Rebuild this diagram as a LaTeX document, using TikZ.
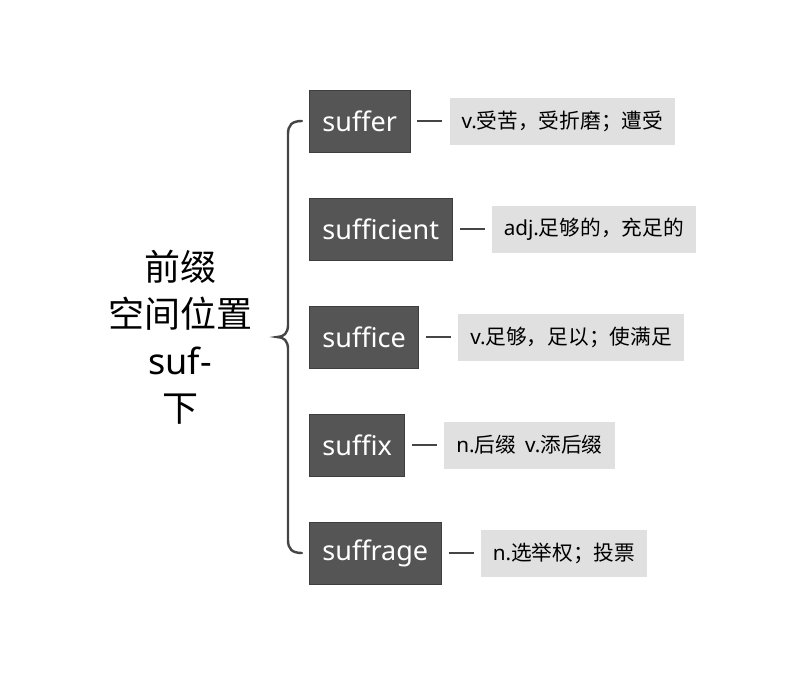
\documentclass[tikz,border=0pt]{standalone}
\usepackage{fontspec}
\setmainfont{Noto Sans}
\newfontfamily\cjk{Noto Sans CJK SC}
\usetikzlibrary{calc, positioning}
\definecolor{boxgray}{HTML}{555555}
\definecolor{boxline}{HTML}{3E3E3E}
\definecolor{descgray}{HTML}{E0E0E0}
\definecolor{linegray}{HTML}{454545}
\tikzset{
    node distance = 39pt,% gap between a word box and the box with its meaning
}

\begin{document}
\begin{tikzpicture}
            [x=1pt,y=-1pt,
            word/.style={fill=boxgray,draw=boxline,line width=0.8pt,text=white,
                font=\fontsize{27}{31}\selectfont,inner xsep=13pt,minimum height=62pt,anchor=west},
            gloss/.style={fill=descgray,text=black,font=\fontsize{20.7}{24}\selectfont,
                inner xsep=12pt,minimum height=47pt},
            link/.style={draw=linegray,line width=2.4pt,shorten <=7pt,shorten >=7pt},
            brace/.style={draw=linegray,line width=2.4pt,line cap=round}]
            \useasboundingbox (0,0) rectangle (786,675);
            \node(root) [align=center,font=\fontsize{36}{47}\selectfont\cjk] at (180,337)
                {前缀\\空间位置\\{\rmfamily suf-}\\下};
            \foreach \name/\word/\glosstext/\y in {
                suffer/suffer/{v.{\cjk 受苦，受折磨；遭受}}/121,
                sufficient/sufficient/{adj.{\cjk 足够的，充足的}}/229,
                suffice/suffice/{v.{\cjk 足够，足以；使满足}}/337,
                suffix/suffix/{n.{\cjk 后缀}\hspace{9pt}v.{\cjk 添后缀}}/445,
                suffrage/suffrage/{n.{\cjk 选举权；投票}}/553}
            {
                \node(\name) [word] at (309,\y) {\word};
                \node(\name-g) [gloss,right=of \name] {\glosstext};
                \draw[link] (\name) -- (\name-g);
            }
            \coordinate (tip) at (277,337);
            % the brace from the root to the five words
            \draw[brace] ([xshift=-7pt]suffer.west) .. controls (292,121) and (288,125) .. (288,134)
                -- (288,325) .. controls (288,333) and (284,337) .. (tip)
                .. controls (284,337) and (288,341) .. (288,349)
                -- (288,540) .. controls (288,549) and (292,553) .. ([xshift=-7pt]suffrage.west);
\end{tikzpicture}
\end{document}
